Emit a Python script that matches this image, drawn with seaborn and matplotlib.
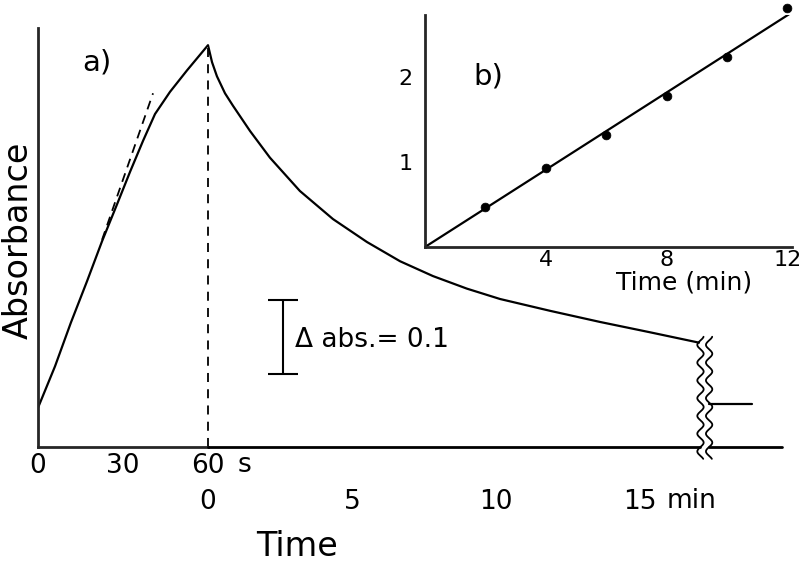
import matplotlib
matplotlib.use('Agg')
import matplotlib.pyplot as plt
import seaborn as sns
import numpy as np
import pandas as pd

# a) build-up during irradiation (seconds) ...
rise_t = [0, 6.0, 11.6, 17.3, 22.6, 27.9, 32.5, 37.1, 41.3, 46.6, 52.6, 60]
rise_abs = [0.053, 0.109, 0.168, 0.224, 0.278, 0.328, 0.372, 0.414, 0.450, 0.480, 0.509, 0.543]
# initial slope (dashed)
tangent_t = [22.6, 40.6]
tangent_abs = [0.280, 0.478]
# ... and dark decay afterwards (minutes)
decay_t = [0, 0.14, 0.31, 0.59, 0.87, 1.46, 2.15, 3.19, 4.34, 5.52, 6.67, 7.81,
           8.99, 10.14, 11.88, 13.61, 15.35, 17.05]
decay_abs = [0.543, 0.520, 0.501, 0.478, 0.461, 0.427, 0.391, 0.346, 0.308, 0.277,
             0.251, 0.231, 0.214, 0.200, 0.184, 0.169, 0.155, 0.141]
# value after the axis break
final_t = [17.4, 18.9]
final_abs = [0.058, 0.058]

sec_ticks = [0, 30, 60]
min_ticks = [0, 5, 10, 15]

# b) inset
b_t = [2, 4, 6, 8, 10, 12]
b_val = [0.47, 0.93, 1.32, 1.78, 2.24, 2.81]
fit_t = [0, 12.1]
fit_val = [0, 2.75]

sns.set_style('white')
plt.rcParams['font.family'] = ['DejaVu Sans']
plt.rcParams['text.color'] = 'black'
plt.rcParams['axes.labelcolor'] = 'black'
plt.rcParams['xtick.color'] = 'black'
plt.rcParams['ytick.color'] = 'black'

W, H = 800, 562
fig = plt.figure(figsize=(8, 5.62), dpi=100)


def fx(px):
    return px / W


def fy(py):
    return 1 - py / H


x0, x60, xend = 38, 208, 782
ytop, ybot = 28, 447
px_per_min = 28.8
ymax = (ybot - ytop) / 740

ax_s = fig.add_axes([fx(x0), fy(ybot), fx(x60 - x0), (ybot - ytop) / H])
ax_m = fig.add_axes([fx(x60), fy(ybot), fx(xend - x60), (ybot - ytop) / H])
for ax in (ax_s, ax_m):
    ax.set_facecolor('none')
    ax.set_ylim(0, ymax)
    ax.set_yticks([])
    for sp in ax.spines.values():
        sp.set_visible(False)
ax_s.set_xlim(0, 60)
ax_m.set_xlim(0, (xend - x60) / px_per_min)

lw = 1.6
rise = pd.DataFrame({'t': rise_t, 'abs': rise_abs})
decay = pd.DataFrame({'t': decay_t, 'abs': decay_abs})
sns.lineplot(data=rise, x='t', y='abs', ax=ax_s, color='black', lw=lw)
sns.lineplot(x=tangent_t, y=tangent_abs, ax=ax_s, color='black', lw=1.3,
             dashes=False).lines[-1].set_dashes((5, 3.5))
ax_s.plot([rise_t[-1], rise_t[-1]], [0, rise_abs[-1]], color='black', lw=1.3,
          dashes=(5, 4), clip_on=False)
sns.lineplot(data=decay, x='t', y='abs', ax=ax_m, color='black', lw=lw)
sns.lineplot(x=final_t, y=final_abs, ax=ax_m, color='black', lw=lw)

# axes lines
ax_s.spines['left'].set_visible(True)
ax_s.spines['bottom'].set_visible(True)
for sp in ax_s.spines.values():
    sp.set_linewidth(2)
brk1, brk2 = 17.1, 17.4
ax_m.plot([0, brk1], [0, 0], color='black', lw=2, clip_on=False)
ax_m.plot([brk2, ax_m.get_xlim()[1]], [0, 0], color='black', lw=2, clip_on=False)
yy = np.linspace(-0.016, 0.149, 200)
for xb in (brk1, brk2):
    ax_m.plot(xb + 0.11 * np.sin(2 * np.pi * yy / 0.024), yy, color='black', lw=1.3,
              clip_on=False)

# ticks
tick_kw = dict(direction='in', length=10.5, width=1.5, colors='black', labelsize=19)
ax_s.set_xticks(sec_ticks)
ax_s.set_xticklabels([str(v) for v in sec_ticks])
ax_s.tick_params(axis='x', pad=4, **tick_kw)
ax_m.set_xticks(min_ticks)
ax_m.set_xticklabels([str(v) for v in min_ticks])
ax_m.tick_params(axis='x', pad=30, **tick_kw)
for ax in (ax_s, ax_m):
    ax.set_xlabel('')
    ax.set_ylabel('')

ax_s.annotate('s', xy=(60, 0), xycoords='data', xytext=(21, -3.5),
              textcoords='offset points', ha='left', va='top', fontsize=19,
              annotation_clip=False)
ax_m.annotate('min', xy=(15, 0), xycoords='data', xytext=(19, -29.8),
              textcoords='offset points', ha='left', va='top', fontsize=19,
              annotation_clip=False)

fig.text(fx(28), fy(240), 'Absorbance', rotation=90, rotation_mode='anchor',
         ha='center', va='baseline', fontsize=24)
fig.text(fx(297), fy(546), 'Time', ha='center', va='center', fontsize=24)
ax_s.text((97 - x0) / (x60 - x0), (ybot - 63) / (ybot - ytop), 'a)',
          transform=ax_s.transAxes, ha='center', va='center', fontsize=21)

# scale bar
ax_m.errorbar([(283 - x60) / px_per_min], [(ybot - 337) / 740], yerr=[0.05],
              color='black', lw=1.5, capsize=11, capthick=1.5, fmt='none')
ax_m.text((295 - x60) / px_per_min, (ybot - 340) / 740, 'Δ abs.= 0.1',
          ha='left', va='center', fontsize=19)

# inset b)
ix0, iy0, ix1, iy1 = 425, 247, 792, 15
axb = fig.add_axes([fx(ix0), fy(iy0), fx(ix1 - ix0), (iy0 - iy1) / H])
axb.set_facecolor('none')
axb.set_xlim(0, 12.15)
axb.set_ylim(0, 2.73)
sns.lineplot(x=fit_t, y=fit_val, ax=axb, color='black', lw=lw)
sns.scatterplot(x=b_t, y=b_val, ax=axb, color='black', s=40, edgecolor='black',
                zorder=3, clip_on=False)
for side in ('top', 'right'):
    axb.spines[side].set_visible(False)
for side in ('left', 'bottom'):
    axb.spines[side].set_linewidth(2)
axb.set_xticks([4, 8, 12])
axb.set_yticks([1, 2])
axb.tick_params(axis='both', direction='in', length=11, width=1.5, labelsize=16)
axb.tick_params(axis='x', pad=2)
axb.tick_params(axis='y', pad=9)
axb.set_xlabel('Time (min)', fontsize=18)
axb.xaxis.set_label_coords((684 - ix0) / (ix1 - ix0), -0.10)
axb.xaxis.label.set_va('top')
axb.set_ylabel('')
axb.text((488 - ix0) / (ix1 - ix0), (iy0 - 77) / (iy0 - iy1), 'b)',
         transform=axb.transAxes, ha='center', va='center', fontsize=21)

plt.savefig('out.png', dpi=100)
plt.close()
